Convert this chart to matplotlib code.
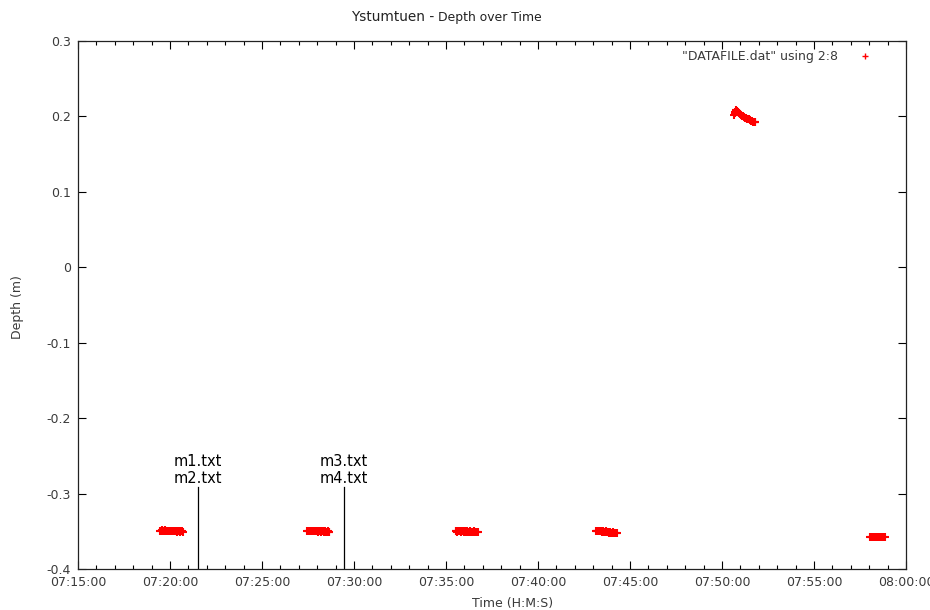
import matplotlib
matplotlib.use("Agg")
import matplotlib.pyplot as plt
from matplotlib.ticker import FuncFormatter, MultipleLocator, FixedLocator

plt.rcParams['font.family'] = ['DejaVu Sans']

def hms(s):
    h, m, sec = s.split(':')
    return int(h) * 3600 + int(m) * 60 + int(sec)

# --- data (time H:M:S, depth m) ---
c1_time = ["07:19:29", "07:19:32", "07:19:35", "07:19:38", "07:19:41", "07:19:44", "07:19:47", "07:19:50",
           "07:19:53", "07:19:56", "07:19:59", "07:20:02", "07:20:05", "07:20:08", "07:20:11", "07:20:14",
           "07:20:17", "07:20:20", "07:20:23", "07:20:26", "07:20:29", "07:20:32", "07:20:35", "07:20:38",
           "07:20:41"]
c1_depth = [-0.349, -0.349, -0.348, -0.349, -0.349, -0.348, -0.349, -0.349,
            -0.349, -0.350, -0.349, -0.349, -0.350, -0.350, -0.349, -0.350,
            -0.350, -0.350, -0.351, -0.350, -0.350, -0.351, -0.350, -0.350,
            -0.351]

c2_time = ["07:27:28", "07:27:31", "07:27:34", "07:27:37", "07:27:40", "07:27:43", "07:27:46", "07:27:49",
           "07:27:52", "07:27:55", "07:27:58", "07:28:01", "07:28:04", "07:28:07", "07:28:10", "07:28:13",
           "07:28:16", "07:28:19", "07:28:22", "07:28:25", "07:28:28", "07:28:31", "07:28:34", "07:28:37",
           "07:28:40"]
c2_depth = [-0.350, -0.349, -0.350, -0.350, -0.349, -0.350, -0.350, -0.350,
            -0.349, -0.350, -0.350, -0.351, -0.350, -0.350, -0.350, -0.351,
            -0.350, -0.350, -0.351, -0.350, -0.351, -0.351, -0.350, -0.351,
            -0.351]

c3_time = ["07:35:31", "07:35:34", "07:35:37", "07:35:40", "07:35:43", "07:35:46", "07:35:49", "07:35:52",
           "07:35:55", "07:35:58", "07:36:01", "07:36:04", "07:36:07", "07:36:10", "07:36:13", "07:36:16",
           "07:36:19", "07:36:22", "07:36:25", "07:36:28", "07:36:31", "07:36:34", "07:36:37", "07:36:40",
           "07:36:43"]
c3_depth = [-0.350, -0.350, -0.351, -0.350, -0.350, -0.350, -0.351, -0.350,
            -0.350, -0.351, -0.350, -0.351, -0.351, -0.350, -0.351, -0.351,
            -0.350, -0.351, -0.351, -0.351, -0.350, -0.351, -0.351, -0.351,
            -0.351]

c4_time = ["07:43:08", "07:43:11", "07:43:14", "07:43:17", "07:43:20", "07:43:23", "07:43:26", "07:43:29",
           "07:43:32", "07:43:35", "07:43:38", "07:43:41", "07:43:44", "07:43:47", "07:43:50", "07:43:53",
           "07:43:56", "07:43:59", "07:44:02", "07:44:05", "07:44:08", "07:44:11", "07:44:14", "07:44:16"]
c4_depth = [-0.349, -0.349, -0.350, -0.349, -0.350, -0.350, -0.350, -0.351,
            -0.350, -0.351, -0.351, -0.350, -0.351, -0.351, -0.351, -0.352,
            -0.351, -0.352, -0.352, -0.351, -0.352, -0.352, -0.352, -0.352]

c5_time = ["07:50:38", "07:50:41", "07:50:44", "07:50:47", "07:50:50", "07:50:53", "07:50:56", "07:50:59",
           "07:51:02", "07:51:05", "07:51:08", "07:51:11", "07:51:14", "07:51:17", "07:51:20", "07:51:23",
           "07:51:26", "07:51:29", "07:51:32", "07:51:35", "07:51:38", "07:51:41", "07:51:44", "07:51:47",
           "07:51:49"]
c5_depth = [0.202, 0.204, 0.206, 0.208, 0.207, 0.206, 0.204, 0.203,
            0.202, 0.201, 0.200, 0.199, 0.198, 0.198, 0.197, 0.197,
            0.196, 0.196, 0.195, 0.194, 0.194, 0.193, 0.193, 0.192,
            0.192]

c6_time = ["07:58:04", "07:58:07", "07:58:10", "07:58:13", "07:58:16", "07:58:19", "07:58:22", "07:58:25",
           "07:58:28", "07:58:31", "07:58:34", "07:58:37", "07:58:40", "07:58:43", "07:58:46", "07:58:50"]
c6_depth = [-0.358, -0.358, -0.358, -0.358, -0.358, -0.358, -0.358, -0.358,
            -0.358, -0.358, -0.358, -0.358, -0.358, -0.358, -0.358, -0.358]

marker_times = ["07:21:31", "07:29:27"]
marker_labels = ["m1.txt\nm2.txt", "m3.txt\nm4.txt"]
marker_top = -0.2915

x_start, x_end = "07:15:00", "08:00:00"
y_ticks = [0.3, 0.2, 0.1, 0, -0.1, -0.2, -0.3, -0.4]
y_tick_labels = ["0.3", "0.2", "0.1", "0", "-0.1", "-0.2", "-0.3", "-0.4"]

title_main = "Ystumtuen -"
title_sub = "Depth over Time"
legend_label = '"DATAFILE.dat" using 2:8'

# --- figure ---
fig = plt.figure(figsize=(9.3, 6.1), dpi=100)
ax = fig.add_axes([78 / 930, 1 - 569 / 610, 828 / 930, 528 / 610])

all_t, all_d = [], []
for tl, dl in [(c1_time, c1_depth), (c2_time, c2_depth), (c3_time, c3_depth),
               (c4_time, c4_depth), (c5_time, c5_depth), (c6_time, c6_depth)]:
    all_t += [hms(t) for t in tl]
    all_d += dl

ax.plot(all_t, all_d, linestyle='none', marker='+', color='red', markersize=5.5,
        markeredgewidth=1.5, label=legend_label)

for t, lab in zip(marker_times, marker_labels):
    tx = hms(t)
    ax.plot([tx, tx], [marker_top, -0.4], color='black', lw=0.9)
    ax.text(tx, marker_top + 0.002, lab, ha='center', va='bottom', fontsize=10.5,
            color='black', linespacing=1.1)

ax.set_xlim(hms(x_start), hms(x_end))
ax.set_ylim(-0.4, 0.3)
ax.xaxis.set_major_locator(MultipleLocator(300))
ax.xaxis.set_minor_locator(MultipleLocator(60))
ax.xaxis.set_major_formatter(FuncFormatter(
    lambda v, p: "%02d:%02d:%02d" % (int(v) // 3600, (int(v) % 3600) // 60, int(v) % 60)))
ax.yaxis.set_major_locator(FixedLocator(y_ticks))
ax.set_yticklabels(y_tick_labels)

tc = '#3a3a3a'
ax.tick_params(which='both', direction='in', top=True, right=True, colors='black',
               labelcolor=tc, labelsize=9)
ax.tick_params(which='major', length=6, width=0.8, pad=5)
ax.tick_params(which='minor', length=3, width=0.8)
for s in ax.spines.values():
    s.set_linewidth(0.9)
    s.set_color('#222222')

fig.text(513 / 930, 1 - 603 / 610, "Time (H:M:S)", ha='center', va='center', fontsize=9, color=tc)
fig.text(17 / 930, 1 - 307 / 610, "Depth (m)", ha='center', va='center', rotation=90,
         fontsize=9, color=tc)
fig.text(434 / 930, 1 - 17 / 610, title_main, ha='right', va='center', fontsize=9.8, color='#222222')
fig.text(438 / 930, 1 - 17 / 610, title_sub, ha='left', va='center', fontsize=8.9, color='#222222')

leg = ax.legend(loc='upper right', frameon=False, markerfirst=False, fontsize=9,
                handlelength=1.2, handletextpad=1.6, borderaxespad=0.35,
                bbox_to_anchor=(1 - 24 / 828, 1.0))
for h in leg.legend_handles:
    h.set_markeredgewidth(1.0)
    h.set_markersize(5)
for txt in leg.get_texts():
    txt.set_color(tc)

fig.savefig("out.png", dpi=100)
